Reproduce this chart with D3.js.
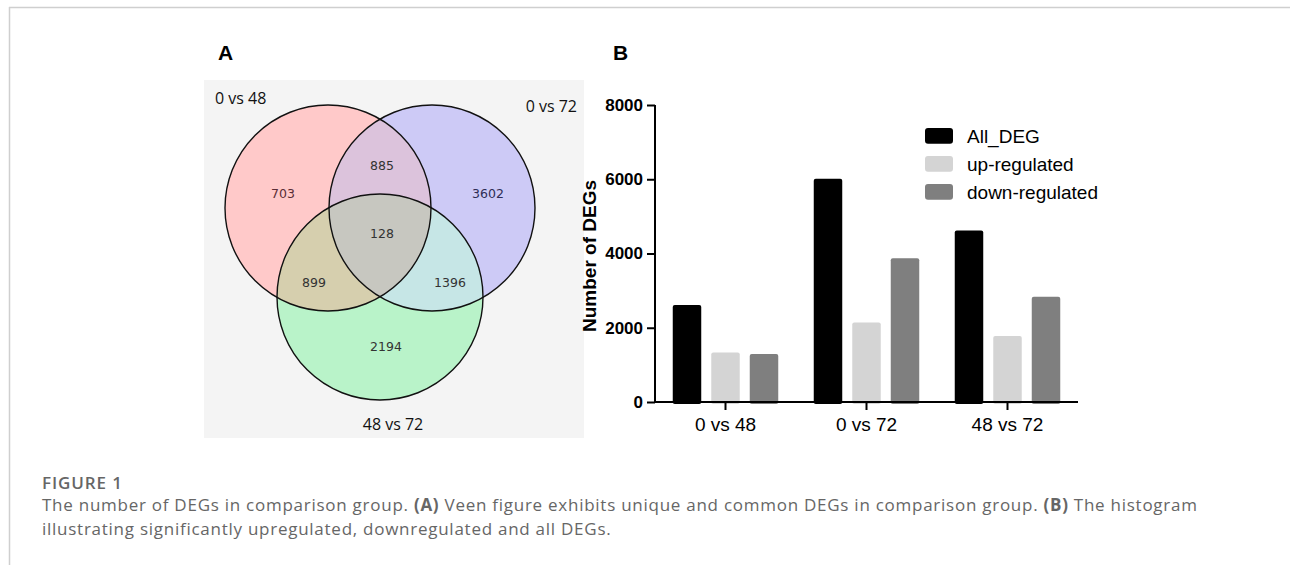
<!DOCTYPE html>
<html>
<head>
<meta charset="utf-8">
<script src="https://cdn.jsdelivr.net/npm/d3@7"></script>
<style>
  body { margin: 0; background: #fff; }
  svg { display: block; }
</style>
</head>
<body>
<div id="chart"></div>
<script>
// venn region counts (from the picture)
const vennSets = ['0 vs 48', '0 vs 72', '48 vs 72'];
const vennRegions = [
  { key: 'A', value: 703 },
  { key: 'B', value: 3602 },
  { key: 'C', value: 2194 },
  { key: 'AB', value: 885 },
  { key: 'AC', value: 899 },
  { key: 'BC', value: 1396 },
  { key: 'ABC', value: 128 }
];

// bar chart data
const groups = ['0 vs 48', '0 vs 72', '48 vs 72'];
const seriesNames = ['All_DEG', 'up-regulated', 'down-regulated'];
const allDeg = [2615, 6011, 4617];
const upReg = [1330, 2140, 1780];
const downReg = [1295, 3871, 2837];
const yTicks = [0, 2000, 4000, 6000, 8000];

const width = 1290, height = 565;
const svg = d3.select('#chart').append('svg').attr('width', width).attr('height', height);

// page frame
svg.append('line').attr('x1', 9).attr('x2', width).attr('y1', 7.5).attr('y2', 7.5)
  .attr('stroke', '#cfcfcf').attr('stroke-width', 1.5);
svg.append('line').attr('x1', 9.5).attr('x2', 9.5).attr('y1', 7).attr('y2', height)
  .attr('stroke', '#cfcfcf').attr('stroke-width', 1.5);

// ---------- panel A: venn ----------
svg.append('text').attr('x', 218).attr('y', 60).text('A')
  .style('font', 'bold 21px Arial, "Liberation Sans", sans-serif');

svg.append('rect').attr('x', 204).attr('y', 80).attr('width', 380).attr('height', 358)
  .attr('fill', '#f4f4f4');

const r = 103;
const circles = { A: { cx: 328, cy: 208 }, B: { cx: 432, cy: 208 }, C: { cx: 380, cy: 297 } };
const fills = { A: '#ffc9c9', B: '#cdcaf6', C: '#b9f3c9', AB: '#dcc3dc', AC: '#d6cfae', BC: '#c6e6e6', ABC: '#c7c7c0' };

const defs = svg.append('defs');
Object.entries(circles).forEach(([k, c]) => {
  defs.append('clipPath').attr('id', 'clip' + k)
    .append('circle').attr('cx', c.cx).attr('cy', c.cy).attr('r', r);
});

const venn = svg.append('g');
['A', 'B', 'C'].forEach(k => {
  venn.append('circle').attr('cx', circles[k].cx).attr('cy', circles[k].cy).attr('r', r).attr('fill', fills[k]);
});
[['AB', 'A', 'B'], ['AC', 'A', 'C'], ['BC', 'B', 'C']].forEach(([k, a, b]) => {
  venn.append('circle').attr('cx', circles[a].cx).attr('cy', circles[a].cy).attr('r', r)
    .attr('clip-path', `url(#clip${b})`).attr('fill', fills[k]);
});
venn.append('g').attr('clip-path', 'url(#clipC)')
  .append('circle').attr('cx', circles.A.cx).attr('cy', circles.A.cy).attr('r', r)
  .attr('clip-path', 'url(#clipB)').attr('fill', fills.ABC);

['A', 'B', 'C'].forEach(k => {
  venn.append('circle').attr('cx', circles[k].cx).attr('cy', circles[k].cy).attr('r', r)
    .attr('fill', 'none').attr('stroke', '#111').attr('stroke-width', 1.4);
});

// label spots for each region
const labelPos = { A: [283, 193], B: [488, 193], C: [386, 346], AB: [382, 165], AC: [314, 282], BC: [450, 282], ABC: [382, 233] };
const labelColor = { A: '#5a2d35', B: '#2d2d55' };
venn.selectAll('.vnum').data(vennRegions).enter().append('text')
  .attr('class', 'vnum')
  .attr('x', d => labelPos[d.key][0]).attr('y', d => labelPos[d.key][1])
  .attr('text-anchor', 'middle').attr('dominant-baseline', 'central')
  .attr('fill', d => labelColor[d.key] || '#333')
  .style('font', '12.5px "DejaVu Sans", sans-serif')
  .text(d => d.value);

const setLabelStyle = '16px "Open Sans", sans-serif';
svg.append('text').attr('x', 215).attr('y', 104).text(vennSets[0]).style('font', setLabelStyle).attr('fill', '#111');
svg.append('text').attr('x', 577).attr('y', 112).attr('text-anchor', 'end').text(vennSets[1]).style('font', setLabelStyle).attr('fill', '#111');
svg.append('text').attr('x', 393).attr('y', 430).attr('text-anchor', 'middle').text(vennSets[2]).style('font', setLabelStyle).attr('fill', '#111');

// ---------- panel B: bars ----------
svg.append('text').attr('x', 613).attr('y', 60).text('B')
  .style('font', 'bold 21px Arial, "Liberation Sans", sans-serif');

const plot = { left: 655, right: 1078, top: 105, bottom: 402 };
const y = d3.scaleLinear().domain([0, 8000]).range([plot.bottom, plot.top]);
const x0 = d3.scaleBand().domain(groups).range([plot.left, plot.right]);
const x1 = d3.scaleBand().domain(seriesNames).range([-52.75, 52.75]).paddingInner(0.26);
const color = d3.scaleOrdinal().domain(seriesNames).range(['#000000', '#d4d4d4', '#7f7f7f']);

const barData = [];
groups.forEach((g, i) => {
  barData.push({ group: g, series: seriesNames[0], value: allDeg[i] });
  barData.push({ group: g, series: seriesNames[1], value: upReg[i] });
  barData.push({ group: g, series: seriesNames[2], value: downReg[i] });
});

svg.append('g').selectAll('rect').data(barData).enter().append('rect')
  .attr('x', d => x0(d.group) + x0.bandwidth() / 2 + x1(d.series))
  .attr('y', d => y(d.value))
  .attr('width', x1.bandwidth())
  .attr('height', d => plot.bottom - y(d.value) + 2)
  .attr('rx', 2)
  .attr('fill', d => color(d.series));

const yAxis = svg.append('g').attr('transform', `translate(${plot.left},0)`)
  .call(d3.axisLeft(y).tickValues(yTicks).tickSize(8).tickPadding(4).tickFormat(d3.format('d')));
yAxis.select('.domain').attr('d', `M0,${plot.top}V${plot.bottom}`);
yAxis.selectAll('path, line').attr('stroke', '#000').attr('stroke-width', 2);
yAxis.selectAll('text').style('font', 'bold 17px Arial, "Liberation Sans", sans-serif').attr('fill', '#000');

const xAxis = svg.append('g').attr('transform', `translate(0,${plot.bottom})`)
  .call(d3.axisBottom(x0).tickSize(8).tickPadding(8));
xAxis.select('.domain').attr('d', `M${plot.left},0H${plot.right}`);
xAxis.selectAll('path, line').attr('stroke', '#000').attr('stroke-width', 2);
xAxis.selectAll('text').style('font', '19px Arial, "Liberation Sans", sans-serif').attr('fill', '#000');

svg.append('text')
  .attr('transform', 'translate(596,256) rotate(-90)')
  .attr('text-anchor', 'middle')
  .style('font', 'bold 19px Arial, "Liberation Sans", sans-serif')
  .text('Number of DEGs');

// legend
const legend = svg.append('g').attr('transform', 'translate(925,128)');
seriesNames.forEach((s, i) => {
  const row = legend.append('g').attr('transform', `translate(0,${i * 28})`);
  row.append('rect').attr('width', 28).attr('height', 15.7).attr('rx', 3).attr('fill', color(s));
  row.append('text').attr('x', 42).attr('y', 8).attr('dominant-baseline', 'central')
    .style('font', '19px Arial, "Liberation Sans", sans-serif').text(s);
});

// ---------- caption ----------
const cap = svg.append('g').attr('fill', '#666');
cap.append('text').attr('x', 42).attr('y', 489)
  .style('font', '600 17px "Open Sans", sans-serif').style('letter-spacing', '0.9px').text('FIGURE 1');
const line1 = cap.append('text').attr('x', 42).attr('y', 511)
  .style('font', '17px "Open Sans", sans-serif').style('letter-spacing', '0.74px');
line1.append('tspan').text('The number of DEGs in comparison group. ');
line1.append('tspan').attr('font-weight', 700).text('(A)');
line1.append('tspan').text(' Veen figure exhibits unique and common DEGs in comparison group. ');
line1.append('tspan').attr('font-weight', 700).text('(B)');
line1.append('tspan').text(' The histogram');
cap.append('text').attr('x', 42).attr('y', 535)
  .style('font', '17px "Open Sans", sans-serif').style('letter-spacing', '0.74px')
  .text('illustrating significantly upregulated, downregulated and all DEGs.');
</script>
</body>
</html>
